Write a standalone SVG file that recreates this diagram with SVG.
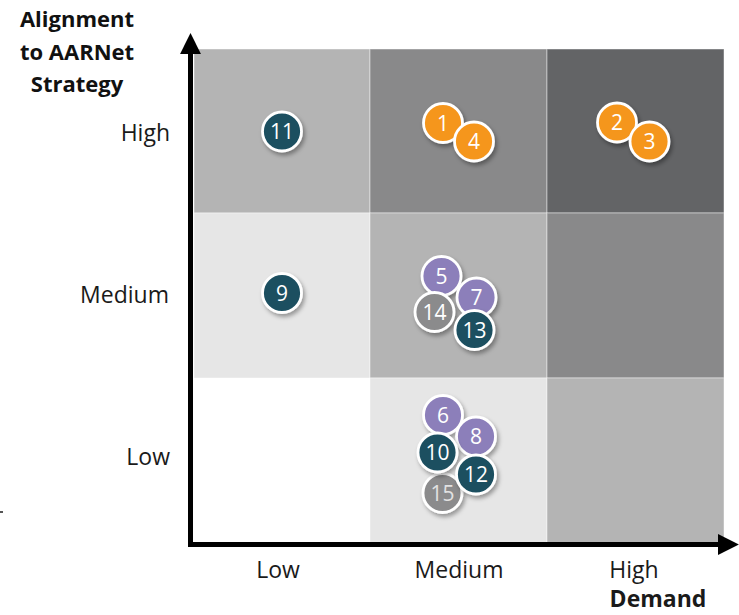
<svg xmlns="http://www.w3.org/2000/svg" width="739" height="615" viewBox="0 0 739 615">
<style>
text{font-family:"Open Sans","Liberation Sans",sans-serif}
.lbl{font-size:23px;fill:#1a1a1a}
.ttl{font-size:22px;font-weight:bold;fill:#111;text-anchor:middle}
.cell{stroke:#ffffff;stroke-opacity:.45;stroke-width:1}
.dot circle{stroke:#ffffff;stroke-width:2.8;filter:url(#sh)}
.dot text{font-size:21px;fill:#fff;text-anchor:middle}
.teal circle{fill:#1b4f61}
.orange circle{fill:#f5961e}
.purple circle{fill:#8c7fba}
.grey circle{fill:#8b8b8c}
.axis{stroke:#000;stroke-width:5;fill:none}
</style>
<defs>
<filter id="sh" x="-40%" y="-40%" width="190%" height="190%">
<feDropShadow dx="2" dy="3" stdDeviation="2" flood-color="#000" flood-opacity="0.35"/>
</filter>
<marker id="ah" viewBox="0 0 10 10" refX="1" refY="5" markerWidth="4.2" markerHeight="4.2" orient="auto" markerUnits="strokeWidth">
<path d="M0,0 L10,5 L0,10 Z" fill="#000"/>
</marker>
</defs>
<rect width="739" height="615" fill="#fff"/>
<g id="grid">
<rect class="cell" x="194" y="49" width="176" height="164" fill="#b4b4b4"/>
<rect class="cell" x="370" y="49" width="177" height="164" fill="#89898a"/>
<rect class="cell" x="547" y="49" width="177" height="164" fill="#636466"/>
<rect class="cell" x="194" y="213" width="176" height="165" fill="#e6e6e6"/>
<rect class="cell" x="370" y="213" width="177" height="165" fill="#b4b4b4"/>
<rect class="cell" x="547" y="213" width="177" height="165" fill="#89898a"/>
<rect x="194" y="378" width="176" height="165" fill="#ffffff"/>
<rect class="cell" x="370" y="378" width="177" height="165" fill="#e6e6e6"/>
<rect class="cell" x="547" y="378" width="177" height="165" fill="#b4b4b4"/>
</g>
<g id="connectors">
<path class="axis" d="M190.5,547 L190.5,52" marker-end="url(#ah)"/>
<path class="axis" d="M188,544.5 L720,544.5" marker-end="url(#ah)"/>
</g>
<g id="labels">
<text class="ttl" x="77" y="27">Alignment</text>
<text class="ttl" x="77" y="60">to AARNet</text>
<text class="ttl" x="77" y="92">Strategy</text>
<text class="lbl" x="170" y="141" text-anchor="end">High</text>
<text class="lbl" x="169" y="303" text-anchor="end">Medium</text>
<text class="lbl" x="170" y="465" text-anchor="end">Low</text>
<text class="lbl" x="278" y="578" text-anchor="middle">Low</text>
<text class="lbl" x="459" y="578" text-anchor="middle">Medium</text>
<text class="lbl" x="634" y="578" text-anchor="middle">High</text>
<text class="lbl" x="658" y="607" text-anchor="middle" font-weight="bold" font-size="22" fill="#111">Demand</text>
</g>
<rect x="0" y="511" width="3" height="2" fill="#555"/>
<g id="n11" class="dot teal"><circle cx="282" cy="131.5" r="19.5"/><text x="282" y="139">11</text></g>
<g id="n9" class="dot teal"><circle cx="282" cy="293" r="19.5"/><text x="282" y="300.5">9</text></g>
<g id="n1" class="dot orange"><circle cx="443" cy="123" r="19.5"/><text x="443" y="130.5">1</text></g>
<g id="n4" class="dot orange"><circle cx="474" cy="141.5" r="19.5"/><text x="474" y="149">4</text></g>
<g id="n2" class="dot orange"><circle cx="617" cy="122.5" r="19.5"/><text x="617" y="130">2</text></g>
<g id="n3" class="dot orange"><circle cx="649.5" cy="141.5" r="19.5"/><text x="649.5" y="149">3</text></g>
<g id="n5" class="dot purple"><circle cx="441.5" cy="276" r="19.5"/><text x="441.5" y="283.5">5</text></g>
<g id="n7" class="dot purple"><circle cx="476.5" cy="297.5" r="19.5"/><text x="476.5" y="305">7</text></g>
<g id="n14" class="dot grey"><circle cx="434.5" cy="312" r="19.5"/><text x="434.5" y="319.5">14</text></g>
<g id="n13" class="dot teal"><circle cx="474.5" cy="330" r="19.5"/><text x="474.5" y="337.5">13</text></g>
<g id="n6" class="dot purple"><circle cx="443" cy="415" r="19.5"/><text x="443" y="422.5">6</text></g>
<g id="n8" class="dot purple"><circle cx="476" cy="436.5" r="19.5"/><text x="476" y="444">8</text></g>
<g id="n15" class="dot grey"><circle cx="442.5" cy="493" r="19.5"/><text x="442.5" y="500.5" style="fill:#e2e2e2">15</text></g>
<g id="n10" class="dot teal"><circle cx="437.5" cy="452.5" r="19.5"/><text x="437.5" y="460">10</text></g>
<g id="n12" class="dot teal"><circle cx="476" cy="474.5" r="19.5"/><text x="476" y="482">12</text></g>
</svg>
